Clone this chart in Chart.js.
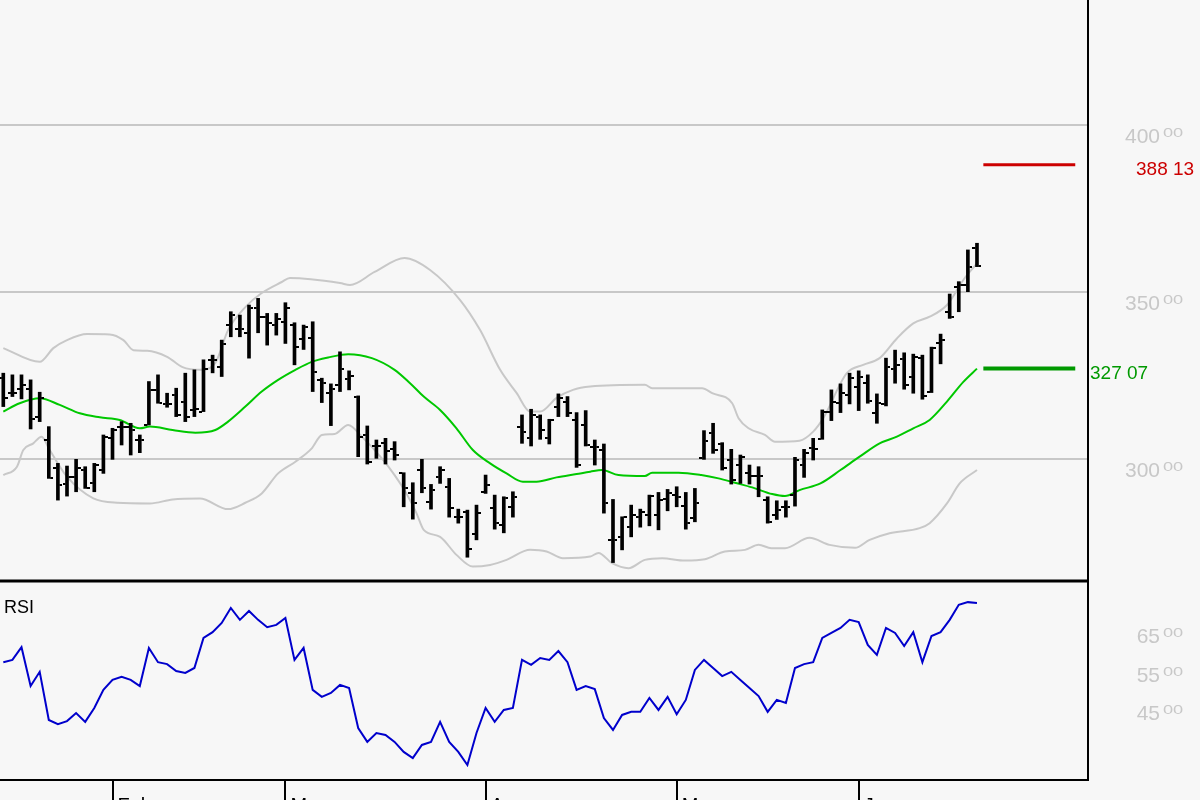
<!DOCTYPE html>
<html>
<head>
<meta charset="utf-8">
<title>Price chart with RSI</title>
<script src="https://cdn.jsdelivr.net/npm/chart.js@4.4.1/dist/chart.umd.min.js"></script>
<style>
    html, body { margin: 0; padding: 0; background: #f7f7f7; }
    #chart { display: block; }
</style>
</head>
<body>
<canvas id="chart" width="1200" height="800"></canvas>
<script>
// ohlc bars, one per trading day (index 0..107)
const opens = [324.3, 319.9, 320.9, 321.0, 312.6, 305.7, 297.2, 292.5, 294.7, 296.7, 292.7, 296.7, 306.3, 309.7, 309.7, 305.7, 310.2, 320.7, 316.5, 319.2,
    317.2, 314.7, 314.2, 329.7, 327.5, 340.0, 338.8, 337.6, 345.1, 342.4, 340.1, 341.1, 340.1, 335.8, 336.1, 323.7, 319.7, 322.2, 323.9, 318.7,
    307.2, 304.0, 304.7, 302.9, 295.7, 289.7, 296.7, 287.2, 294.7, 291.5, 282.7, 284.2, 277.6, 290.2, 285.2, 280.2, 285.7, 309.7, 306.2, 312.7,
    306.2, 315.7, 317.2, 311.7, 310.2, 303.5, 302.7, 275.8, 276.7, 279.7, 282.7, 283.2, 283.2, 288.0, 289.2, 285.9, 282.3, 300.2, 307.7, 304.5,
    299.7, 298.2, 295.7, 294.9, 287.7, 283.2, 285.5, 289.2, 298.2, 303.2, 305.9, 314.2, 316.7, 319.2, 321.7, 322.7, 313.9, 316.5, 326.9, 329.9,
    324.7, 330.2, 320.2, 334.8, 344.1, 351.4, 352.1, 363.1];
const highs = [325.7, 325.2, 325.2, 323.7, 320.0, 309.7, 298.7, 297.9, 299.9, 297.7, 298.7, 307.2, 309.2, 311.2, 310.7, 307.2, 323.2, 325.2, 319.7, 321.2,
    325.7, 326.7, 329.7, 331.1, 335.6, 344.1, 343.1, 346.1, 348.1, 343.6, 343.6, 346.8, 340.8, 340.1, 341.1, 324.2, 322.5, 332.1, 326.4, 318.9,
    309.9, 305.7, 306.2, 305.2, 295.9, 292.9, 299.9, 292.4, 297.7, 294.2, 285.0, 284.7, 286.2, 295.2, 289.2, 288.7, 290.2, 313.2, 314.9, 313.2,
    311.9, 319.5, 318.7, 313.9, 314.5, 305.7, 304.5, 287.9, 282.7, 286.2, 285.0, 289.2, 290.0, 290.9, 291.7, 290.0, 291.2, 308.5, 310.7, 304.9,
    302.9, 301.2, 298.2, 297.7, 288.7, 287.5, 287.5, 300.5, 302.9, 306.2, 314.7, 320.7, 322.5, 325.7, 326.4, 325.2, 319.5, 330.2, 332.6, 331.8,
    331.4, 331.1, 333.5, 337.4, 349.4, 353.1, 362.6, 364.6];
const lows = [315.7, 318.7, 318.0, 309.0, 311.2, 294.2, 287.7, 288.9, 290.2, 291.2, 290.2, 295.7, 299.9, 304.2, 301.2, 301.9, 310.2, 316.7, 315.5, 312.7,
    311.2, 312.7, 314.2, 325.8, 324.7, 336.6, 336.6, 330.2, 337.8, 334.1, 337.1, 334.6, 328.2, 332.8, 320.2, 316.9, 310.0, 320.2, 320.7, 300.7,
    298.5, 300.2, 298.5, 299.7, 285.7, 282.0, 289.9, 285.0, 292.7, 282.6, 280.8, 270.6, 275.8, 289.7, 279.0, 277.9, 282.6, 304.7, 303.9, 305.9,
    304.5, 312.7, 312.7, 297.5, 303.9, 298.2, 283.8, 269.0, 272.8, 276.7, 279.6, 280.0, 278.8, 284.5, 285.7, 279.0, 281.2, 299.9, 301.7, 296.7,
    292.5, 292.7, 292.5, 288.7, 280.8, 281.9, 282.6, 285.9, 294.5, 299.7, 305.9, 311.5, 313.9, 316.5, 314.5, 316.7, 310.7, 315.9, 322.7, 320.9,
    319.7, 317.9, 319.9, 328.5, 342.1, 344.1, 350.1, 357.6];
const closes = [318.2, 319.7, 322.2, 312.0, 318.3, 294.3, 292.2, 294.7, 297.2, 291.2, 298.2, 306.7, 308.7, 309.7, 308.7, 305.7, 320.7, 316.7, 316.5, 313.2,
    312.7, 314.9, 326.9, 329.7, 334.5, 343.1, 338.8, 345.1, 342.4, 340.6, 341.8, 345.1, 333.6, 339.6, 326.1, 322.9, 321.0, 326.9, 324.9, 306.7,
    299.2, 304.0, 302.5, 301.2, 291.2, 286.7, 291.2, 290.7, 296.7, 285.2, 282.7, 273.0, 283.9, 292.2, 280.9, 288.2, 288.7, 308.2, 313.2, 308.7,
    311.7, 318.2, 313.7, 298.2, 304.2, 303.5, 286.7, 275.8, 282.7, 283.2, 284.2, 288.9, 287.7, 289.7, 288.7, 280.8, 286.7, 305.5, 302.7, 297.2,
    293.7, 300.5, 294.9, 294.9, 281.2, 284.7, 285.5, 299.7, 301.9, 302.9, 314.2, 317.2, 319.7, 324.2, 324.7, 317.5, 316.7, 327.5, 328.2, 322.2,
    330.6, 318.9, 333.2, 335.6, 342.4, 352.1, 357.4, 357.7];

// moving average and bollinger bands as [bar index, value]
const smaLine = [[0, 314.2], [1.8, 316.7], [4, 318.2], [6.2, 316.2], [8.4, 313.7], [10.6, 312.5], [12.8, 311.7], [15, 309.2], [16.1, 309.7],
    [18.6, 308.7], [21.1, 307.9], [23.3, 308.7], [24.7, 311.2], [26.6, 315.7], [28.4, 320.2], [30.2, 323.7], [32.1, 326.7], [33.9, 329.1],
    [35.7, 330.4], [37.9, 331.4], [40.5, 330.2], [43, 326.7], [44.7, 322.7], [46.2, 318.7], [48, 314.7], [49.8, 309.2], [51.6, 302.7],
    [53.5, 298.7], [55.3, 295.7], [57.1, 293.2], [58.6, 293.2], [60.8, 294.5], [63, 295.5], [64.5, 296.2], [65.8, 296.7], [67.6, 295.2],
    [70.5, 294.9], [71.3, 295.9], [74.2, 295.9], [76.7, 295.2], [78.6, 294.2], [80.4, 292.9], [82.3, 291.5], [84.5, 289.5], [85.9, 288.9],
    [87.5, 290.7], [89.8, 292.7], [92, 296.7], [94.1, 300.7], [96.3, 304.7], [98.2, 306.7], [100, 309.2], [101.8, 311.7], [103.7, 317.2],
    [105.5, 323.1], [107, 327.07]];
const upperBand = [[0, 333.2], [4, 329.1], [5.5, 333.2], [7, 335.6], [9.2, 337.4], [11.7, 337.3], [13.2, 335.6], [14.3, 332.6], [15.8, 332.4],
    [18, 330.6], [19.7, 327.5], [21.6, 326.7], [23.3, 328.8], [24.7, 338.6], [26.6, 345.5], [28.4, 349.7], [30.6, 353.0], [31.5, 354.2],
    [37, 352.7], [38.1, 352.1], [40.8, 356.0], [44.1, 360.2], [46.9, 356.6], [50.2, 347.6], [52.4, 338.6], [54.6, 326.7], [56.4, 319.8],
    [57.9, 314.2], [59, 314.2], [60.8, 318.3], [62.6, 320.7], [64.5, 321.7], [70.5, 322.2], [71.3, 321.2], [76.8, 321.2], [77.9, 319.7],
    [80.1, 316.7], [80.8, 312.2], [81.9, 309.2], [83.7, 307.2], [84.8, 305.2], [87.5, 305.5], [89, 308.2], [90.1, 312.2], [92.7, 325.7],
    [94.5, 328.2], [96.3, 330.2], [98.2, 336.1], [100, 340.6], [101.8, 342.6], [103.7, 346.1], [105.5, 353.6], [107, 358.6]];
const lowerBand = [[0, 295.2], [1.5, 297.7], [2.2, 302.7], [3.3, 304.7], [4.2, 306.7], [5.1, 302.7], [7, 294.7], [9.9, 288.2], [12.5, 286.9],
    [16.1, 286.7], [18.6, 287.9], [21.6, 288.2], [24.7, 285.0], [26.6, 286.9], [28.4, 289.7], [30.2, 295.7], [32.1, 299.2], [33.9, 303.2],
    [35, 307.2], [36.4, 307.5], [37.9, 310.2], [39.4, 306.7], [41.6, 300.2], [43, 295.2], [44.3, 289.7], [45.4, 283.8], [46.2, 278.8],
    [48, 276.7], [49.8, 271.3], [51.6, 267.8], [53.5, 268.3], [55.3, 269.8], [57.9, 272.8], [59.7, 272.3], [61.5, 270.3], [64.5, 270.8],
    [65.4, 271.9], [66.9, 268.8], [68.7, 267.3], [70.5, 269.8], [72.4, 270.3], [74.9, 269.6], [77.1, 270.0], [79.3, 272.3], [81.5, 272.8],
    [83, 274.3], [84.4, 273.3], [85.9, 273.3], [88.6, 276.4], [90.8, 274.3], [93.6, 273.4], [95.2, 275.8], [97.4, 277.8], [100.7, 279.3],
    [101.8, 280.8], [103.7, 286.7], [105.1, 292.7], [107, 296.7]];

// rsi, one value per bar
const rsi = [55.6, 56.2, 59.5, 49.4, 53.1, 40.6, 39.5, 40.3, 42.4, 40.1, 43.7, 48.4, 51.0, 51.8, 51.0, 49.4, 59.3, 55.6, 55.1, 53.3,
    52.8, 54.1, 61.9, 63.4, 65.8, 69.7, 66.6, 68.9, 66.6, 64.7, 65.3, 67.1, 56.2, 59.3, 48.4, 46.6, 47.6, 49.7, 48.9, 38.5,
    34.9, 37.2, 36.7, 34.9, 32.3, 30.7, 34.1, 34.9, 40.1, 34.9, 32.3, 28.9, 37.2, 43.7, 40.1, 43.2, 43.7, 56.2, 54.9, 56.7,
    56.2, 58.5, 55.6, 48.4, 49.4, 48.6, 41.1, 38.0, 41.9, 42.7, 42.7, 46.3, 43.2, 46.6, 42.1, 45.8, 53.6, 56.2, 54.1, 52.0,
    53.1, 51.0, 48.9, 46.8, 42.7, 45.8, 45.0, 54.1, 55.1, 55.6, 61.9, 63.2, 64.5, 66.6, 66.0, 60.1, 57.5, 64.5, 63.2, 59.8,
    63.4, 55.6, 62.4, 63.4, 66.6, 70.5, 71.2, 71.0];

// axis ticks and levels
const priceTicks = [300, 350, 400];
const rsiTicks = [45, 55, 65];
const monthTicks = [12, 31, 53, 74, 94];
const monthLabels = ['Feb', 'Mar', 'Apr', 'May', 'Jun'];
const targetLevel = 388.13;
const smaLevel = 327.07;
const levelFrom = 107.7;
const levelTo = 117.8;

const FONT = "'Liberation Sans', Arial, sans-serif";

// little tick images for open (left) and close (right)
function makeTick(left) {
    const c = document.createElement('canvas');
    c.width = 9;
    c.height = 2;
    const g = c.getContext('2d');
    g.fillStyle = '#000';
    g.fillRect(left ? 0 : 6, 0, 3, 2);
    return c;
}
const openTick = makeTick(true);
const closeTick = makeTick(false);

const barData = highs.map((h, i) => ({ x: i, y: [lows[i], h] }));
const openData = opens.map((v, i) => ({ x: i, y: v }));
const closeData = closes.map((v, i) => ({ x: i, y: v }));
const toPts = arr => arr.map(p => ({ x: p[0], y: p[1] }));
const rsiData = rsi.map((v, i) => ({ x: i, y: v }));

// draws the label with a small raised decimal part, like 400 00
function drawSplitLabel(ctx, whole, frac, right, baseline, color) {
    ctx.fillStyle = color;
    ctx.textBaseline = 'alphabetic';
    ctx.font = '21px ' + FONT;
    ctx.textAlign = 'right';
    ctx.fillText(whole, right, baseline);
    ctx.save();
    ctx.translate(right + 3, baseline - 6);
    ctx.scale(1.4, 1);
    ctx.font = '13px ' + FONT;
    ctx.textAlign = 'left';
    ctx.fillText(frac, 0, 0);
    ctx.restore();
}

const decorations = {
    id: 'decorations',
    beforeDraw(chart) {
        const ctx = chart.ctx;
        ctx.save();
        ctx.fillStyle = '#f7f7f7';
        ctx.fillRect(0, 0, chart.width, chart.height);
        ctx.restore();
    },
    afterDraw(chart) {
        const ctx = chart.ctx;
        const area = chart.chartArea;
        const y = chart.scales.y;
        const r = chart.scales.rsi;
        ctx.save();

        // panel separator
        const sepY = Math.round(area.top + (area.bottom - area.top) * 581 / 780);
        ctx.strokeStyle = '#000';
        ctx.lineWidth = 3;
        ctx.beginPath();
        ctx.moveTo(area.left, sepY);
        ctx.lineTo(area.right, sepY);
        ctx.stroke();

        // price axis labels
        priceTicks.forEach(v => {
            const py = y.getPixelForValue(v);
            drawSplitLabel(ctx, String(v), '00', 1160, py + 17.5, '#c8c8c8');
        });
        rsiTicks.forEach(v => {
            const py = r.getPixelForValue(v);
            drawSplitLabel(ctx, String(v), '00', 1160, py + 17, '#c8c8c8');
        });

        // level labels
        ctx.textAlign = 'left';
        ctx.textBaseline = 'alphabetic';
        ctx.font = '19px ' + FONT;
        const t = targetLevel.toFixed(2).split('.');
        ctx.fillStyle = '#cc0000';
        ctx.fillText(t[0] + ' ' + t[1], 1136, y.getPixelForValue(targetLevel) + 10.5);
        const s = smaLevel.toFixed(2).split('.');
        ctx.fillStyle = '#009900';
        ctx.fillText(s[0] + ' ' + s[1], 1090, y.getPixelForValue(smaLevel) + 10);

        // rsi panel title
        ctx.fillStyle = '#000';
        ctx.font = '18px ' + FONT;
        ctx.fillText('RSI', 4, 612.5);
        ctx.restore();
    }
};

const chart = new Chart(document.getElementById('chart'), {
    type: 'line',
    data: {
        datasets: [
            {
                type: 'bar',
                data: barData,
                backgroundColor: '#000',
                barThickness: 3,
                yAxisID: 'y',
                order: 0
            },
            {
                type: 'scatter',
                data: openData,
                pointStyle: openTick,
                pointRadius: 3,
                yAxisID: 'y',
                order: 0
            },
            {
                type: 'scatter',
                data: closeData,
                pointStyle: closeTick,
                pointRadius: 3,
                yAxisID: 'y',
                order: 0
            },
            {
                data: toPts(upperBand),
                borderColor: '#c8c8c8',
                borderWidth: 2,
                pointRadius: 0,
                cubicInterpolationMode: 'monotone',
                yAxisID: 'y',
                order: 2
            },
            {
                data: toPts(lowerBand),
                borderColor: '#c8c8c8',
                borderWidth: 2,
                pointRadius: 0,
                cubicInterpolationMode: 'monotone',
                yAxisID: 'y',
                order: 2
            },
            {
                data: toPts(smaLine),
                borderColor: '#00c800',
                borderWidth: 2,
                pointRadius: 0,
                cubicInterpolationMode: 'monotone',
                yAxisID: 'y',
                order: 1
            },
            {
                data: [{ x: levelFrom, y: targetLevel }, { x: levelTo, y: targetLevel }],
                borderColor: '#cc0000',
                borderWidth: 3,
                pointRadius: 0,
                yAxisID: 'y',
                order: 1
            },
            {
                data: [{ x: levelFrom, y: smaLevel }, { x: levelTo, y: smaLevel }],
                borderColor: '#009900',
                borderWidth: 4,
                pointRadius: 0,
                yAxisID: 'y',
                order: 1
            },
            {
                data: rsiData,
                borderColor: '#0000cc',
                borderWidth: 2,
                pointRadius: 0,
                tension: 0,
                yAxisID: 'rsi',
                order: 1
            }
        ]
    },
    options: {
        responsive: false,
        animation: false,
        events: [],
        layout: { padding: 0, autoPadding: false },
        plugins: {
            legend: { display: false },
            tooltip: { enabled: false }
        },
        scales: {
            x: {
                type: 'linear',
                position: 'bottom',
                min: -0.363,
                max: 119.2,
                offset: false,
                afterBuildTicks: s => { s.ticks = monthTicks.map(v => ({ value: v })); },
                afterFit: s => { s.height = 20; },
                grid: {
                    offset: false,
                    drawOnChartArea: false,
                    drawTicks: true,
                    tickLength: 20,
                    color: '#000',
                    lineWidth: 2
                },
                border: { display: true, color: '#000', width: 2 },
                ticks: {
                    autoSkip: false,
                    maxRotation: 0,
                    align: 'start',
                    labelOffset: 5,
                    padding: -6,
                    color: '#000',
                    font: { family: FONT, size: 20 },
                    callback: (v, i) => monthLabels[i]
                }
            },
            y: {
                type: 'linear',
                position: 'right',
                // price panel uses the upper 580 px, the rest is left for rsi
                min: 203.9,
                max: 437.43,
                afterBuildTicks: s => { s.ticks = priceTicks.map(v => ({ value: v })); },
                afterFit: s => { s.width = 112; },
                grid: { color: '#c8c8c8', lineWidth: 2, drawTicks: false },
                border: { display: true, color: '#000', width: 2 },
                ticks: { display: false }
            },
            rsi: {
                type: 'linear',
                position: 'right',
                display: false,
                min: 25.0,
                max: 227.6
            }
        }
    },
    plugins: [decorations]
});
</script>
</body>
</html>
